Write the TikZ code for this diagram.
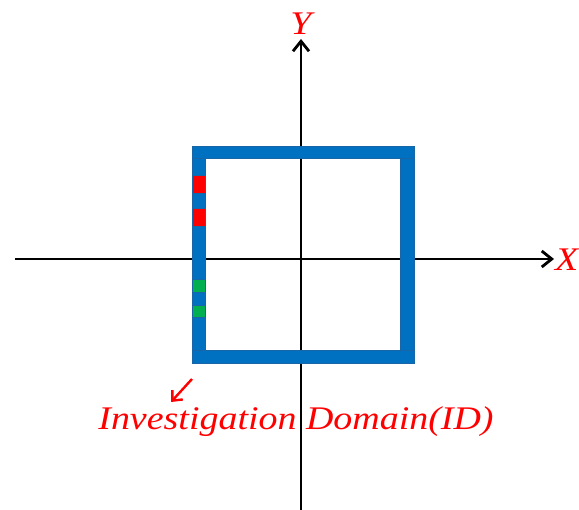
\documentclass[tikz,border=0pt]{standalone}
\usepackage{fontspec}
\setmainfont{Liberation Serif}
\usetikzlibrary{arrows.meta}
\definecolor{barblue}{HTML}{0070C0}
\definecolor{baredge}{HTML}{1866A8}
\definecolor{segred}{HTML}{FF0000}
\definecolor{seggreen}{HTML}{00B050}
\definecolor{lblred}{HTML}{FF0000}
\tikzset{
  axis/.style={line width=2.8pt, black, -{Straight Barb[length=10pt,width=16pt,line width=2.8pt]}},
  bar/.style={fill=barblue, draw=baredge, line width=0.6pt},
  redseg/.style={fill=segred, draw=baredge, line width=0.6pt},
  greenseg/.style={fill=seggreen, draw=baredge, line width=0.6pt},
  lbl/.style={text=lblred, inner sep=0pt},
  pointer/.style={draw=lblred, line width=2.4pt, -{Straight Barb[length=8pt,width=14pt,line width=2.4pt]}}
}
\newcommand{\wideit}[2]{\scalebox{1.15}[1]{\fontsize{#1}{#1}\selectfont\itshape #2}}
\begin{document}
\begin{tikzpicture}[x=1pt,y=-1pt]
\useasboundingbox (0,0) rectangle (579,510);
% axes
\coordinate (xs) at (15,259);
\coordinate (xe) at (554,259);
\coordinate (ys) at (301,510);
\coordinate (ye) at (301,39);
\draw[axis] (xs) -- (xe);
\draw[axis] (ys) -- (ye);
\node[lbl, anchor=west] (xl) at (555,260) {\wideit{33}{X}};
\node[lbl] (yl) at (301,24) {\wideit{33}{Y}};
% box bars
\path[bar] (192,146) rectangle (414,158);
\path[bar] (400,158) rectangle (414,350);
\path[bar] (192,350) rectangle (414,363);
% left bar segments
\path[bar] (192,158) rectangle (205,175);
\path[redseg] (192,175) rectangle (205,193);
\path[bar] (192,193) rectangle (205,208);
\path[redseg] (192,208) rectangle (205,226);
\path[bar] (192,226) rectangle (205,279);
\path[greenseg] (192,279) rectangle (205,292);
\path[bar] (192,292) rectangle (205,305);
\path[greenseg] (192,305) rectangle (205,317);
\path[bar] (192,317) rectangle (205,350);
% label and pointer
\coordinate (ps) at (192,379);
\coordinate (pe) at (171,402);
\draw[pointer] (ps) -- (pe);
\node[lbl] (id) at (296,422) {\wideit{33}{Investigation Domain(ID)}};
\end{tikzpicture}
\end{document}
